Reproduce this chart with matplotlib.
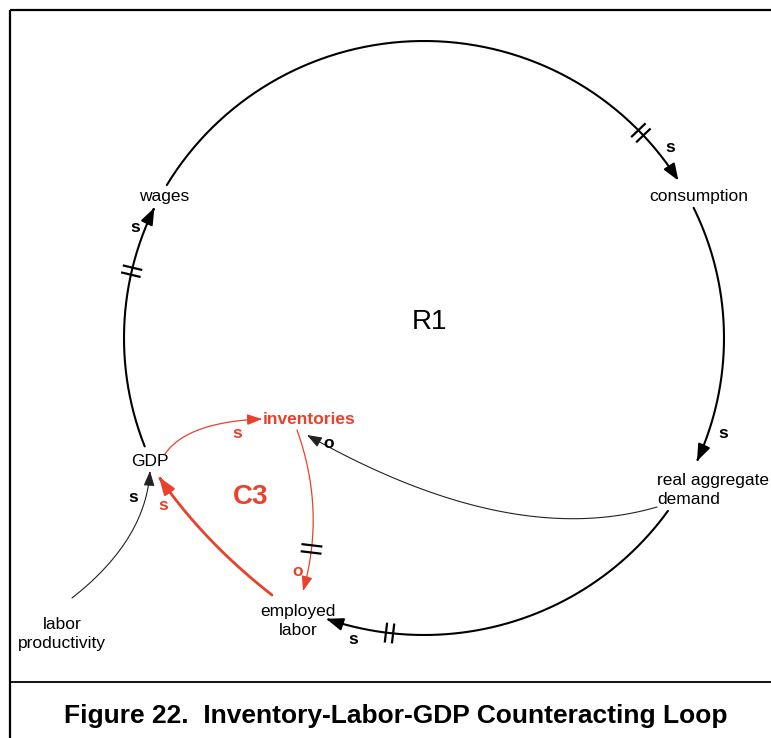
import numpy as np
import matplotlib
matplotlib.use("Agg")
import matplotlib.pyplot as plt
from matplotlib.patches import FancyArrowPatch
from matplotlib.path import Path

plt.rcParams['font.family'] = ['Liberation Sans', 'DejaVu Sans']

RED = '#e8412c'

# --- diagram data (image pixel coordinates, y down) ---
loop_center = (424, 338)
loop_radius = (300, 297)

# main R1 loop: (start angle, end angle, delay-mark angle) in degrees
loop_segments = [(201.4, 154, 167), (149, 32, 43.7), (26, -24.5, None), (-35.6, -109, -96.6)]

node_names = ['wages', 'consumption', 'real aggregate\ndemand', 'inventories',
              'GDP', 'employed\nlabor', 'labor\nproductivity']
node_xy = [(164, 196), (699, 196), (657, 490), (309, 420), (150, 462), (298, 621), (62, 634)]
node_ha = ['center', 'center', 'left', 'center', 'center', 'center', 'center']
node_color = ['black', 'black', 'black', RED, 'black', 'black', 'black']
node_weight = ['normal', 'normal', 'normal', 'bold', 'normal', 'normal', 'normal']

# inner links: start, control, end, colour, width, delay mark (fraction along curve)
link_start = [(72, 598), (165, 454), (297, 430), (272, 595), (657, 507)]
link_ctrl = [(146, 540), (187, 422), (326, 511), (204, 542), (510, 550)]
link_end = [(150, 471), (262, 419), (303, 591), (159, 477), (307, 435)]
link_color = ['#222222', RED, RED, RED, '#222222']
link_width = [0.8, 0.9, 0.9, 2.0, 0.8]
link_delay = [None, None, 0.74, None, None]

# polarity labels
pol_text = ['s', 's', 's', 's', 's', 'o', 's', 's', 'o']
pol_xy = [(135, 228), (670, 148), (723, 433), (353, 639), (133, 497),
          (329, 443), (237, 434), (163, 505), (298, 572)]
pol_color = ['black'] * 6 + [RED] * 3

loop_labels = ['R1', 'C3']
loop_label_xy = [(430, 322), (251, 497)]
loop_label_color = ['black', RED]
loop_label_weight = ['normal', 'bold']

caption = 'Figure 22.  Inventory-Labor-GDP Counteracting Loop'


def ellipse_pts(a0, a1, n=200):
    t = np.radians(np.linspace(a0, a1, n))
    cx, cy = loop_center
    rx, ry = loop_radius
    return np.column_stack([cx + rx * np.cos(t), cy - ry * np.sin(t)])


def bezier_pts(p0, c, p2, n=100):
    t = np.linspace(0, 1, n)[:, None]
    p0, c, p2 = np.array(p0), np.array(c), np.array(p2)
    return (1 - t) ** 2 * p0 + 2 * (1 - t) * t * c + t ** 2 * p2


def draw_arrow(ax, pts, color, lw, hl=10, hw=3.6):
    path = Path(pts)
    ax.add_patch(FancyArrowPatch(path=path, arrowstyle=f'-|>,head_length={hl},head_width={hw}',
                                 color=color, lw=lw, mutation_scale=1))


def delay_mark(ax, p, tangent, color, length=20, gap=3.6, lw=1.6):
    tx, ty = tangent / np.linalg.norm(tangent)
    nx, ny = -ty, tx
    for s in (-gap, gap):
        cx, cy = p[0] + tx * s, p[1] + ty * s
        ax.plot([cx - nx * length / 2, cx + nx * length / 2],
                [cy - ny * length / 2, cy + ny * length / 2], color=color, lw=lw,
                solid_capstyle='butt')


fig = plt.figure(figsize=(7.71, 7.38), dpi=100)
ax = fig.add_axes([0, 0, 1, 1])
ax.set_xlim(0, 771)
ax.set_ylim(738, 0)
ax.axis('off')

# frame
ax.plot([10, 10], [738, 10], color='black', lw=1.6, solid_capstyle='butt')
ax.plot([10, 771], [10, 10], color='black', lw=1.6, solid_capstyle='butt')
ax.plot([10, 771], [682, 682], color='black', lw=1.3, solid_capstyle='butt')

# R1 loop
for a0, a1, ad in loop_segments:
    pts = ellipse_pts(a0, a1)
    draw_arrow(ax, pts, 'black', 1.5, hl=10, hw=3.8)
    if ad is not None:
        p = ellipse_pts(ad, ad + 0.5 * np.sign(a1 - a0), 2)
        delay_mark(ax, p[0], p[1] - p[0], 'black')

# inner links
for s, c, e, col, lw, d in zip(link_start, link_ctrl, link_end, link_color, link_width, link_delay):
    pts = bezier_pts(s, c, e)
    draw_arrow(ax, pts, col, lw, hl=10 if lw > 1 else 9, hw=3.6 if lw > 1 else 3.3)
    if d is not None:
        i = int(d * (len(pts) - 1))
        delay_mark(ax, pts[i], pts[i + 1] - pts[i], 'black', length=21)

for name, (x, y), ha, col, w in zip(node_names, node_xy, node_ha, node_color, node_weight):
    ax.text(x, y, name, ha=ha, va='center', color=col, fontsize=12.5, fontweight=w,
            linespacing=1.4)

for t, (x, y), col in zip(pol_text, pol_xy, pol_color):
    ax.text(x, y, t, ha='center', va='center', color=col, fontsize=12.5, fontweight='bold')

for t, (x, y), col, w in zip(loop_labels, loop_label_xy, loop_label_color, loop_label_weight):
    ax.text(x, y, t, ha='center', va='center', color=col, fontsize=20, fontweight=w)

ax.text(396, 716, caption, ha='center', va='center', fontsize=19, fontweight='bold')

fig.savefig('out.png', dpi=100)
